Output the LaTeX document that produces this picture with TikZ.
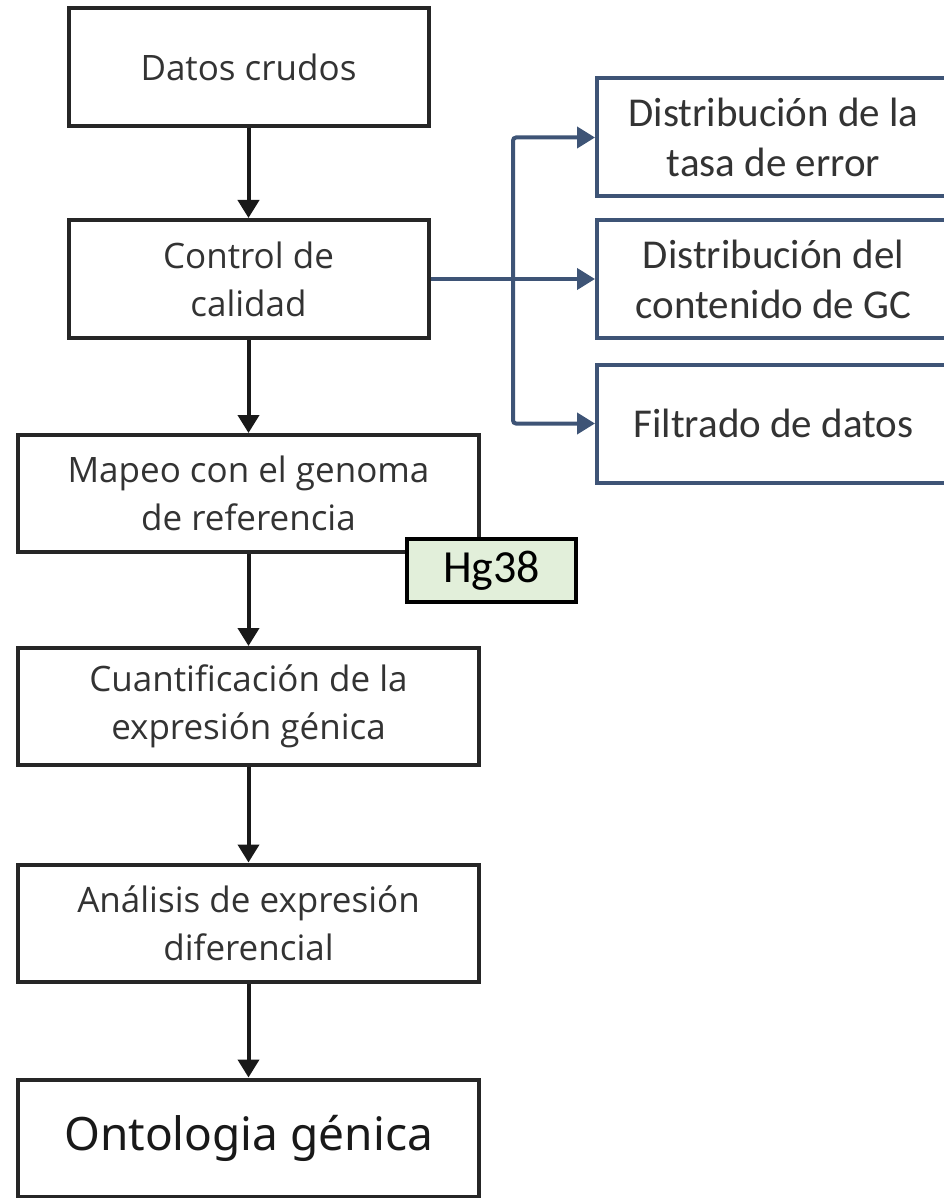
\documentclass[tikz,border=0pt]{standalone}
\usepackage{fontspec}
\setmainfont{Open Sans}
\newfontfamily\calibfont{Carlito}
\newfontfamily\notofont{Noto Sans}
\usetikzlibrary{arrows.meta}
\definecolor{slateblue}{RGB}{62,84,118}
\definecolor{hgfill}{RGB}{226,239,218}

\begin{document}
\begin{tikzpicture}[x=1pt,y=-1pt,
    stepbox/.style={draw=black!85,line width=4pt,fill=white,align=center,text=black!80,
      font=\fontsize{35}{48}\selectfont,inner sep=0pt},
    narrow/.style={stepbox,minimum width=360pt,minimum height=118pt},
    wide/.style={stepbox,minimum width=461pt,minimum height=117pt},
    qcbox/.style={draw=slateblue,line width=4pt,fill=white,align=center,text=black!80,
      font=\calibfont\fontsize{41}{50}\selectfont,minimum width=353pt,minimum height=118pt,inner sep=0pt},
    refbox/.style={draw=black,line width=4pt,fill=hgfill,font=\calibfont\fontsize{46}{50}\selectfont,
      minimum width=169pt,minimum height=63pt,inner sep=0pt},
    flow/.style={-{Triangle[width=21pt,length=18pt]},line width=4pt,draw=black!90},
    qcflow/.style={-{Triangle[width=21pt,length=18pt]},line width=4pt,draw=slateblue,rounded corners=3pt}]
      \useasboundingbox (0,0) rectangle (943,1198);
      \draw
        (248.5,67) node[narrow] (raw) {Datos crudos}
        (248.5,279) node[narrow] (qc) {Control de\\calidad}
        (248.5,493.5) node[wide] (map) {Mapeo con el genoma\\de referencia}
        (248.5,706.5) node[wide] (quant) {Cuantificación de la\\expresión génica}
        (248.5,923) node[wide] (dea) {Análisis de expresión\\diferencial}
        (248.5,1138) node[wide,font=\notofont\fontsize{46}{50}\selectfont,text=black!90] (onto) {Ontologia génica}
        (773.5,137.5) node[qcbox] (err) {Distribución de la\\tasa de error}
        (773.5,279) node[qcbox] (gc) {Distribución del\\contenido de GC}
        (773.5,423.5) node[qcbox] (filt) {Filtrado de datos}
        (491.5,570.5) node[refbox] (hg) {Hg38};
      \coordinate (split) at (513,279);
      \begin{scope}[flow]
        \draw (raw) to (qc);
        \draw (qc) to (map);
        \draw (map) to (quant);
        \draw (quant) to (dea);
        \draw (dea) to (onto);
      \end{scope}
      \begin{scope}[qcflow]
        \draw (qc) to (gc);
        \draw (split) |- (err);
        \draw (split) |- (filt);
      \end{scope}
    \end{tikzpicture}
\end{document}
